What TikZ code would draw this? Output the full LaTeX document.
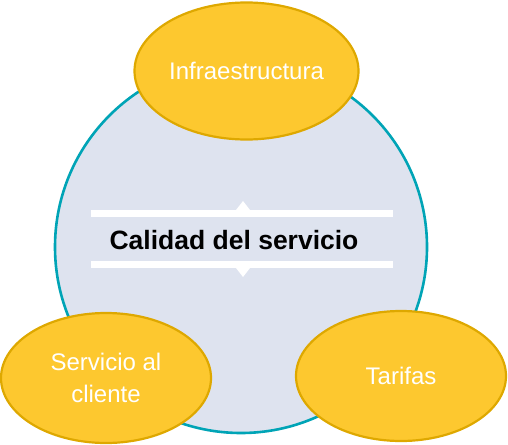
\documentclass[tikz,border=0pt]{standalone}
\usepackage{fontspec}
\setmainfont{Liberation Sans}
\usetikzlibrary{shapes.geometric}

\definecolor{hubfill}{HTML}{DEE3EF}
\definecolor{hubline}{HTML}{00A4B6}
\definecolor{petalfill}{HTML}{FDC82F}
\definecolor{petalline}{HTML}{DEA800}

\begin{document}
\begin{tikzpicture}[x=1pt,y=-1pt]

\tikzstyle{hub} = [circle, minimum size=372pt, inner sep=0pt, fill=hubfill, draw=hubline, line width=2.6pt]
\tikzstyle{petal} = [ellipse, inner sep=0pt, fill=petalfill, draw=petalline, line width=2.2pt, text=white, font=\fontsize{24}{32}\selectfont, align=center]
\tikzstyle{bar} = [fill=white]
\tikzstyle{title} = [font=\bfseries\fontsize{26.5}{30}\selectfont, text=black]

\useasboundingbox (0,0) rectangle (508,444);

\node[hub] (quality) at (241, 247) {};

% white bars with small arrow tips
\fill[bar] (91, 210) rectangle (393, 217);
\fill[bar] (236, 210) -- (243, 201) -- (250, 210) -- cycle;
\fill[bar] (91, 261) rectangle (393, 268);
\fill[bar] (236, 268) -- (243, 277) -- (250, 268) -- cycle;

\node[title] (label) at (234, 240) {Calidad del servicio};

\node[petal, minimum width=224pt, minimum height=137pt] (infra) at (246.5, 71) {Infraestructura};
\node[petal, minimum width=210pt, minimum height=130pt] (client) at (106, 378) {Servicio al\\cliente};
\node[petal, minimum width=210pt, minimum height=130pt] (rates) at (401, 376) {Tarifas};

\end{tikzpicture}
\end{document}
